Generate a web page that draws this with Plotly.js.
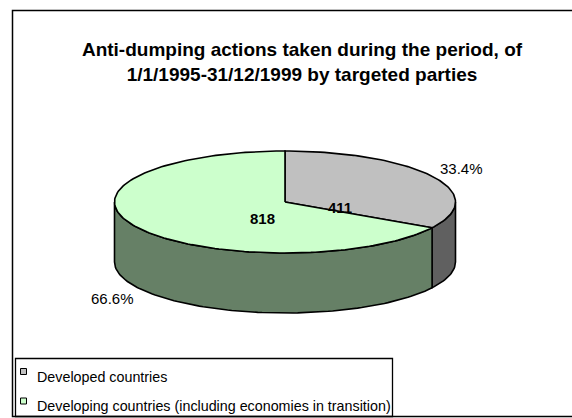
<!DOCTYPE html>
<html><head><meta charset="utf-8">
<script src="https://cdn.plot.ly/plotly-3.0.1.min.js"></script>
<style>html,body{margin:0;padding:0;background:#fff}#chart{width:572px;height:418px}</style>
</head><body><div id="chart"></div>
<script>
const categories = ['Developed countries', 'Developing countries (including economies in transition)'];
const values = [411, 818];
const topColors = ['#C0C0C0', '#CCFFCC'];
const sideColors = ['#606060', '#668066'];
const titleLines = ['Anti-dumping actions taken during the period, of', '1/1/1995-31/12/1999 by targeted parties'];

const total = values.reduce((a, b) => a + b, 0);
const percents = values.map(v => (100 * v / total).toFixed(1) + '%');

// pie geometry in pixel units (axes map 1 unit = 1 px)
const CX = 285, CY = 202, RX = 170.5, RY = 51, DEPTH = 60;
function P(t, dz) { return [CX + RX * Math.sin(t), CY - RY * Math.cos(t) + dz]; }
function arc(a, b, dz) {
  const n = Math.max(2, Math.ceil(Math.abs(b - a) / (Math.PI / 120)));
  const pts = [];
  for (let i = 0; i <= n; i++) pts.push(P(a + (b - a) * i / n, dz));
  return pts;
}

let start = 0;
const slices = values.map(v => { const a = start, b = start + 2 * Math.PI * v / total; start = b; return [a, b]; });

const traces = [];
// visible side walls (front half)
slices.forEach(([a, b], i) => {
  const lo = Math.max(a, Math.PI / 2), hi = Math.min(b, 3 * Math.PI / 2);
  if (hi > lo) {
    const top = arc(lo, hi, 0), bot = arc(hi, lo, DEPTH);
    const pts = top.concat(bot); pts.push(top[0]);
    traces.push({
      type: 'scatter', mode: 'lines', x: pts.map(p => p[0]), y: pts.map(p => p[1]),
      fill: 'toself', fillcolor: sideColors[i], line: { color: '#000', width: 1.6 },
      hoverinfo: 'skip', showlegend: false, name: categories[i]
    });
  }
});
// top faces
slices.forEach(([a, b], i) => {
  const pts = [[CX, CY]].concat(arc(a, b, 0)); pts.push([CX, CY]);
  traces.push({
    type: 'scatter', mode: 'lines', x: pts.map(p => p[0]), y: pts.map(p => p[1]),
    fill: 'toself', fillcolor: topColors[i], line: { color: '#000', width: 1.6 },
    hoverinfo: 'skip', showlegend: false, name: categories[i]
  });
});

const font = 'Liberation Sans, Arial, sans-serif';
const valuePos = [[340, 207], [262, 218]];
const pctPos = [[461.5, 168], [112.5, 298]];
const annotations = [];
values.forEach((v, i) => {
  annotations.push({ x: valuePos[i][0], y: valuePos[i][1], xref: 'x', yref: 'y', text: String(v), showarrow: false,
    font: { family: font, size: 15, color: '#000', weight: 'bold' }, xanchor: 'center', yanchor: 'middle' });
  annotations.push({ x: pctPos[i][0], y: pctPos[i][1], xref: 'x', yref: 'y', text: percents[i], showarrow: false,
    font: { family: font, size: 15, color: '#000' }, xanchor: 'center', yanchor: 'middle' });
});
// legend
const legRows = [376.5, 406];
const shapes = [
  { type: 'rect', xref: 'x', yref: 'y', x0: 12.5, x1: 600, y0: 10.5, y1: 416.5, line: { color: '#000', width: 1.5 }, fillcolor: 'rgba(0,0,0,0)' },
  { type: 'rect', xref: 'x', yref: 'y', x0: 15.5, x1: 392.5, y0: 358.5, y1: 416.5, line: { color: '#000', width: 1.3 }, fillcolor: 'rgba(0,0,0,0)' }
];
categories.forEach((c, i) => {
  const yc = legRows[i] - 5;
  shapes.push({ type: 'rect', xref: 'x', yref: 'y', x0: 20.5, x1: 26.5, y0: yc - 3, y1: yc + 3,
    line: { color: '#000', width: 1 }, fillcolor: topColors[i] });
  annotations.push({ x: 35, y: legRows[i], xref: 'x', yref: 'y', text: c, showarrow: false,
    font: { family: font, size: 14.3, color: '#000' }, xanchor: 'left', yanchor: 'middle' });
});

const layout = {
  width: 572, height: 418,
  margin: { l: 0, r: 0, t: 0, b: 0 },
  paper_bgcolor: '#fff', plot_bgcolor: '#fff',
  showlegend: false,
  title: { text: titleLines.join('<br>'), font: { family: font, size: 19, color: '#000', weight: 'bold' },
    x: 302 / 572, xanchor: 'center', xref: 'paper', y: 1 - 56 / 418, yanchor: 'middle', yref: 'container' },
  xaxis: { range: [0, 572], visible: false, fixedrange: true },
  yaxis: { range: [418, 0], visible: false, fixedrange: true },
  shapes: shapes,
  annotations: annotations
};
Plotly.newPlot('chart', traces, layout, { staticPlot: true, displayModeBar: false });
</script></body></html>
